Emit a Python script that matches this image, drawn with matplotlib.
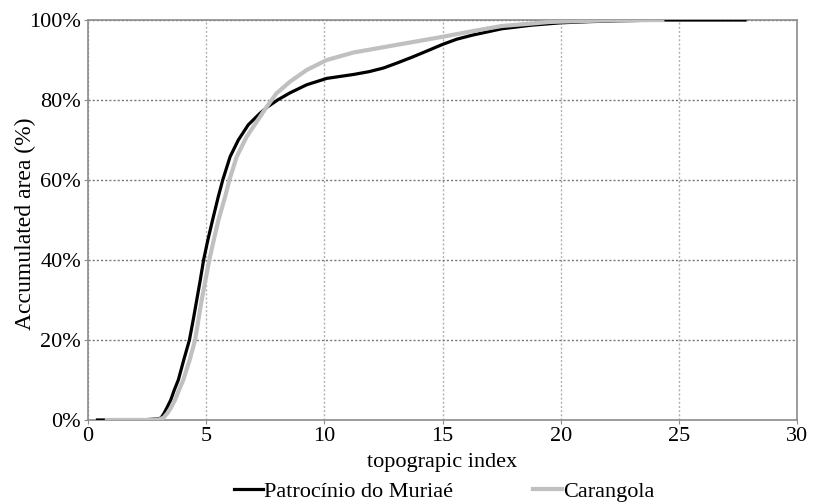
import matplotlib
matplotlib.use("Agg")
import matplotlib.pyplot as plt
from matplotlib.ticker import FixedLocator

plt.rcParams["font.family"] = ["Liberation Serif", "DejaVu Serif"]

# Patrocinio do Muriae (black)
patro_x = [0.4, 0.8, 1.5, 2.5, 3.0, 3.1, 3.22, 3.35, 3.5, 3.65, 3.82, 4.05, 4.29, 4.45,
           4.6, 4.75, 4.89, 5.07, 5.27, 5.51, 5.70, 6.01, 6.36, 6.78, 7.28, 7.6, 8.02,
           8.55, 9.25, 10.1, 11.25, 11.9, 12.5, 13.1, 13.75, 14.4, 15.0, 15.6, 16.25,
           17.5, 18.75, 20.0, 21.25, 22.5, 24.3, 27.8]
patro_y = [0, 0, 0, 0.1, 0.3, 0.6, 1.7, 3.2, 5, 7.5, 10, 15, 20, 25,
           30, 35, 40, 45, 50, 55.8, 60, 65.8, 70, 73.8, 76.7, 78.3, 80,
           81.8, 83.8, 85.4, 86.4, 87.1, 88.0, 89.3, 90.8, 92.4, 93.9, 95.2, 96.2,
           97.8, 98.7, 99.3, 99.6, 99.8, 100, 100]

# Carangola (grey)
cara_x = [0.8, 1.5, 2.5, 3.0, 3.2, 3.36, 3.5, 3.68, 3.85, 4.03, 4.3, 4.53, 4.67,
          4.81, 4.97, 5.13, 5.32, 5.52, 5.80, 5.98, 6.29, 6.71, 7.14, 7.56, 7.98,
          8.55, 9.25, 10.1, 11.25, 12.5, 13.75, 15.0, 16.25, 17.5, 18.75, 19.5,
          20.0, 22.0, 24.3]
cara_y = [0, 0, 0, 0.1, 0.6, 1.7, 3.0, 5, 7.5, 10, 15, 20, 25,
          30, 35, 40, 45, 50, 55.8, 60, 65.8, 70.8, 74.6, 78.3, 81.7,
          84.6, 87.5, 90.0, 91.9, 93.2, 94.5, 95.8, 97.2, 98.5, 99.1, 99.5,
          99.6, 99.9, 100]

x_ticks = [0, 5, 10, 15, 20, 25, 30]
y_ticks = [0, 20, 40, 60, 80, 100]
y_labels = ["0%", "20%", "40%", "60%", "80%", "100%"]

fig = plt.figure(figsize=(8.15, 5.04), dpi=100)
ax = fig.add_axes([0.108, 0.1667, 0.870, 0.7936])

ax.plot(patro_x, patro_y, color="black", linewidth=2.3, label="Patrocínio do Muriaé",
        zorder=3, solid_joinstyle="round")
ax.plot(cara_x, cara_y, color="#c0c0c0", linewidth=3.0, label="Carangola",
        zorder=3, solid_joinstyle="round")

ax.set_xlim(0, 30)
ax.set_ylim(0, 100)
ax.xaxis.set_major_locator(FixedLocator(x_ticks))
ax.set_yticks(y_ticks)
ax.set_yticklabels(y_labels)

ax.yaxis.grid(True, linestyle=(0, (1.5, 1.5)), color="#777777", linewidth=1.0)
ax.xaxis.grid(True, linestyle=(0, (1.5, 1.5)), color="#b0b0b0", linewidth=1.0)
ax.set_axisbelow(True)

for s in ax.spines.values():
    s.set_color("#8c8c8c")
    s.set_linewidth(1.2)

ax.tick_params(axis="both", labelsize=16, length=3, color="#8c8c8c", pad=2)
ax.set_xlabel("topograpic index", fontsize=16, labelpad=5)
ax.set_ylabel("Accumulated area (%)", fontsize=17)
# label sits right next to the shorter tick labels, as in the original
ax.yaxis.set_label_coords(-0.074, 0.49)

fig.legend(loc="lower center", bbox_to_anchor=(0.545, -0.035), ncol=2, frameon=False,
           fontsize=16, handlelength=1.3, handletextpad=0.05, columnspacing=3.6)

fig.savefig("out.png", dpi=100)
